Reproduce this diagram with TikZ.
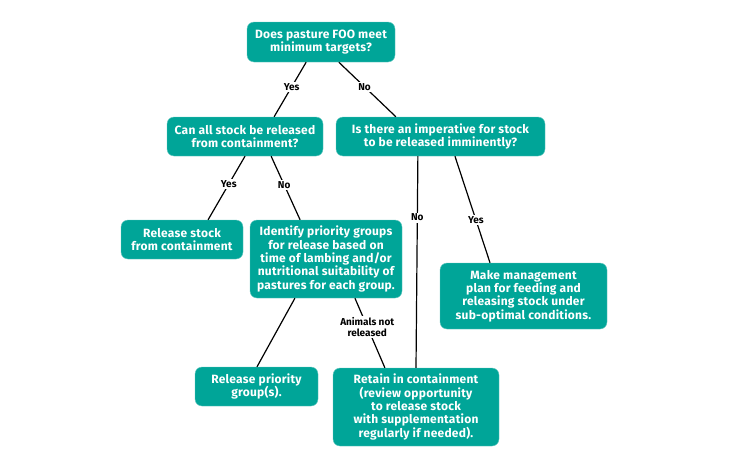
\documentclass[tikz,border=0pt]{standalone}
\usepackage{fontspec}
\setmainfont{Fira Sans}
\usetikzlibrary{calc}
\definecolor{teal1}{RGB}{0,165,152}
\tikzset{
  box/.style={rectangle, rounded corners=7pt, fill=teal1, draw=teal1!60, line width=0.4pt,
    text=white, align=center, font=\fontsize{12}{13.4}\selectfont\bfseries\addfontfeature{LetterSpace=2}, inner sep=0pt},
  link/.style={line width=1.2pt, black},
  lab/.style={fill=white, inner sep=1.5pt, font=\fontsize{10}{11}\selectfont\bfseries, align=center}
}
\begin{document}
\begin{tikzpicture}[x=1pt,y=-1pt]
\useasboundingbox (0,0) rectangle (730,455);
\fill[white] (0,0) rectangle (730,455);
\node[box, minimum width=148pt, minimum height=40pt] (top) at (321,42) {Does pasture FOO meet\\minimum targets?};
\node[box, minimum width=156pt, minimum height=39pt] (can) at (245,136.5) {Can all stock be released\\from containment?};
\node[box, minimum width=209pt, minimum height=39pt] (is) at (440.5,136.5) {Is there an imperative for stock\\to be released imminently?};
\node[box, minimum width=122pt, minimum height=39pt] (rel) at (182,239.5) {Release stock\\from containment};
\node[box, minimum width=152pt, minimum height=78pt] (ident) at (326,259) {Identify priority groups\\for release based on\\time of lambing and/or\\nutritional suitability of\\pastures for each group.};
\node[box, minimum width=123pt, minimum height=39pt] (relp) at (256.5,386.5) {Release priority\\group(s).};
\node[box, minimum width=166pt, minimum height=78pt] (ret) at (416,407) {Retain in containment\\(review opportunity\\to release stock\\with supplementation\\regularly if needed).};
\node[box, minimum width=167pt, minimum height=66pt] (make) at (523.5,296) {Make management\\plan for feeding and\\releasing stock under\\sub-optimal conditions.};

\draw[link] ($(top.south west)!0.40!(top.south east)$) -- node[lab, pos=0.45] {Yes} ($(can.north west)!0.686!(can.north east)$);
\draw[link] ($(top.south west)!0.62!(top.south east)$) -- node[lab, pos=0.45] {No} ($(is.north west)!0.287!(is.north east)$);
\draw[link] ($(can.south west)!0.5!(can.south east)$) -- node[lab, pos=0.44] {Yes} ($(rel.north west)!0.713!(rel.north east)$);
\draw[link] ($(can.south west)!0.667!(can.south east)$) -- node[lab, pos=0.45] {No} ($(ident.north west)!0.33!(ident.north east)$);
\draw[link] ($(is.south west)!0.392!(is.south east)$) -- node[lab, pos=0.29] {No} ($(ret.north west)!0.5!(ret.north east)$);
\draw[link] ($(is.south west)!0.569!(is.south east)$) -- node[lab, pos=0.6] {Yes} ($(make.north west)!0.30!(make.north east)$);
\draw[link] ($(ident.south west)!0.296!(ident.south east)$) -- ($(relp.north west)!0.504!(relp.north east)$);
\draw[link] ($(ident.south west)!0.69!(ident.south east)$) -- node[lab, pos=0.41] {Animals not\\released} ($(ret.north west)!0.313!(ret.north east)$);
\end{tikzpicture}
\end{document}
